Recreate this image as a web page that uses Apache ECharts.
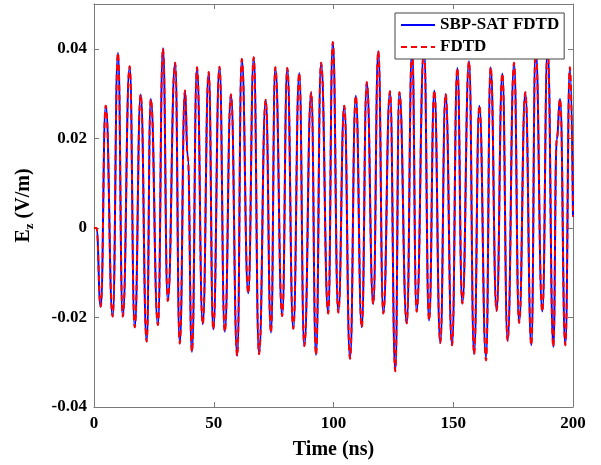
<!DOCTYPE html>
<html>
<head>
<meta charset="utf-8">
<script src="https://cdn.jsdelivr.net/npm/echarts@6/dist/echarts.min.js"></script>
<style>
html,body{margin:0;padding:0;background:#fff;}
#chart{width:601px;height:465px;}
</style>
</head>
<body>
<div id="chart"></div>
<script>
// Time (ns) of the extrema
var times = [0, 1.0, 2.8, 4.9, 7.8, 10.0, 12.0, 14.9, 17.0, 19.5, 22.0, 23.7, 26.7, 28.8, 30.8, 33.9, 35.8, 38.0, 39.1, 40.9,
  43.0, 45.4, 47.9, 49.8, 52.4, 54.6, 57.2, 59.8, 61.7, 64.4, 66.7, 68.9, 71.7, 73.9, 75.7, 78.6, 80.7, 83.2, 85.7, 87.8,
  90.7, 92.7, 94.8, 97.8, 99.7, 102.0, 104.5, 106.9, 109.3, 111.8, 113.9, 116.6, 118.7, 120.8, 123.6, 125.8, 127.5, 130.6,
  132.8, 134.7, 137.8, 139.9, 142.1, 144.6, 146.8, 149.5, 151.7, 153.8, 156.6, 158.7, 160.9, 163.7, 165.6, 168.1, 170.5,
  172.7, 175.4, 177.5, 180.1, 182.6, 184.4, 187.2, 189.4, 191.8, 193.2, 194.6, 196.8, 198.7, 200];
// Ez (V/m), SBP-SAT FDTD
var sbpValues = [0, 0, -0.0176, 0.0273, -0.0198, 0.0391, -0.0198, 0.0361, -0.0222, 0.0298, -0.0254, 0.0288, -0.0217, 0.0401, -0.0163, 0.0369, -0.0258, 0.0307, 0.0160, -0.0277,
  0.0359, -0.0215, 0.0348, -0.0227, 0.0360, -0.0232, 0.0298, -0.0286, 0.0377, -0.0146, 0.0381, -0.0282, 0.0286, -0.0234, 0.0359, -0.0197, 0.0357, -0.0225, 0.0346, -0.0264,
  0.0303, -0.0284, 0.0369, -0.0191, 0.0415, -0.0189, 0.0273, -0.0292, 0.0295, -0.0222, 0.0325, -0.0170, 0.0395, -0.0191, 0.0305, -0.0320, 0.0303, -0.0213,
  0.0400, -0.0187, 0.0400, -0.0207, 0.0307, -0.0257, 0.0299, -0.0262, 0.0357, -0.0169, 0.0372, -0.0282, 0.0273, -0.0290, 0.0359, -0.0185, 0.0345,
  -0.0252, 0.0369, -0.0212, 0.0303, -0.0262, 0.0400, -0.0187, 0.0400, -0.0266, 0.0197, 0.0288, -0.0262, 0.0359, 0.0025];
// Ez (V/m), FDTD
var fdtdValues = [0, 0, -0.0176, 0.0273, -0.0198, 0.0391, -0.0198, 0.0361, -0.0222, 0.0298, -0.0254, 0.0288, -0.0217, 0.0401, -0.0163, 0.0369, -0.0258, 0.0307, 0.0160, -0.0277,
  0.0359, -0.0215, 0.0348, -0.0227, 0.0360, -0.0232, 0.0298, -0.0286, 0.0377, -0.0146, 0.0381, -0.0282, 0.0286, -0.0234, 0.0359, -0.0197, 0.0357, -0.0225, 0.0346, -0.0264,
  0.0303, -0.0284, 0.0369, -0.0191, 0.0415, -0.0189, 0.0273, -0.0292, 0.0295, -0.0222, 0.0325, -0.0170, 0.0395, -0.0191, 0.0305, -0.0320, 0.0303, -0.0213,
  0.0400, -0.0187, 0.0400, -0.0207, 0.0307, -0.0257, 0.0299, -0.0262, 0.0357, -0.0169, 0.0372, -0.0282, 0.0273, -0.0296, 0.0359, -0.0185, 0.0345,
  -0.0252, 0.0369, -0.0212, 0.0303, -0.0262, 0.0400, -0.0187, 0.0400, -0.0266, 0.0197, 0.0288, -0.0262, 0.0359, 0.0025];
var seriesNames = ['SBP-SAT FDTD', 'FDTD'];
var xTicks = [0, 50, 100, 150, 200];
var yTicks = [-0.04, -0.02, 0, 0.02, 0.04];

function pairs(xs, ys) { return xs.map(function (x, i) { return [x, ys[i]]; }); }

var FONT = "'Liberation Serif', 'Times New Roman', serif";
var AXC = '#7a7a7a';
var chart = echarts.init(document.getElementById('chart'), null, {renderer: 'canvas'});
var lbl = {color: '#000', fontFamily: FONT, fontWeight: 'bold', fontSize: 17};
chart.setOption({
  animation: false,
  backgroundColor: '#fff',
  grid: {left: 94, right: 28, top: 4, bottom: 58, containLabel: false},
  legend: {
    left: 395, top: 13, orient: 'vertical',
    backgroundColor: '#fff', borderColor: '#444', borderWidth: 1,
    padding: [2, 5, 2, 5], itemGap: 2, itemWidth: 34, itemHeight: 14,
    itemStyle: {opacity: 0},
    textStyle: {color: '#000', fontFamily: FONT, fontWeight: 'bold', fontSize: 17, lineHeight: 20},
    data: seriesNames
  },
  xAxis: [{
    type: 'value', min: xTicks[0], max: xTicks[xTicks.length - 1], interval: 50,
    name: 'Time (ns)', nameLocation: 'middle', nameGap: 33,
    nameTextStyle: {color: '#000', fontFamily: FONT, fontWeight: 'bold', fontSize: 20},
    axisLine: {show: true, onZero: false, lineStyle: {color: AXC, width: 1}},
    axisTick: {show: true, inside: true, length: 5, lineStyle: {color: AXC}},
    axisLabel: Object.assign({margin: 8}, lbl),
    splitLine: {show: false}
  }, {
    type: 'value', position: 'top', min: 0, max: 200, interval: 50,
    axisLine: {show: true, onZero: false, lineStyle: {color: AXC, width: 1}},
    axisTick: {show: true, inside: true, length: 5, lineStyle: {color: AXC}},
    axisLabel: {show: false}, splitLine: {show: false}
  }],
  yAxis: [{
    type: 'value', min: yTicks[0], max: 0.05, interval: 0.02,
    name: '{e|E}{z|z}{n| (V/m)}', nameLocation: 'middle', nameGap: 58, nameRotate: 90,
    nameTextStyle: {
      color: '#000', fontFamily: FONT, fontWeight: 'bold', fontSize: 20,
      rich: {
        e: {fontFamily: FONT, fontWeight: 'bold', fontSize: 20, lineHeight: 24, verticalAlign: 'middle', color: '#000'},
        z: {fontFamily: FONT, fontWeight: 'bold', fontSize: 13, lineHeight: 13, verticalAlign: 'bottom', color: '#000'},
        n: {fontFamily: FONT, fontWeight: 'bold', fontSize: 20, lineHeight: 24, verticalAlign: 'middle', color: '#000'}
      }
    },
    axisLine: {show: true, onZero: false, lineStyle: {color: AXC, width: 1}},
    axisTick: {show: true, inside: true, length: 5, lineStyle: {color: AXC}},
    axisLabel: Object.assign({margin: 7, showMaxLabel: false, formatter: function (v) {
      var r = Math.round(v * 100) / 100;
      return yTicks.indexOf(r) >= 0 ? String(r) : '';
    }}, lbl),
    splitLine: {show: false}
  }, {
    type: 'value', position: 'right', min: -0.04, max: 0.05, interval: 0.02,
    axisLine: {show: true, onZero: false, lineStyle: {color: AXC, width: 1}},
    axisTick: {show: true, inside: true, length: 5, lineStyle: {color: AXC}},
    axisLabel: {show: false}, splitLine: {show: false}
  }],
  series: [{
    name: seriesNames[0], type: 'line', data: pairs(times, sbpValues),
    showSymbol: false, symbol: 'none', smooth: 0.5, smoothMonotone: 'x',
    lineStyle: {color: '#0000ff', width: 2, type: 'solid'}, itemStyle: {color: '#0000ff'}
  }, {
    name: seriesNames[1], type: 'line', data: pairs(times, fdtdValues),
    showSymbol: false, symbol: 'none', smooth: 0.5, smoothMonotone: 'x',
    lineStyle: {color: '#ff0000', width: 2, type: [6, 4]}, itemStyle: {color: '#ff0000'}
  }]
});
</script>
</body>
</html>
